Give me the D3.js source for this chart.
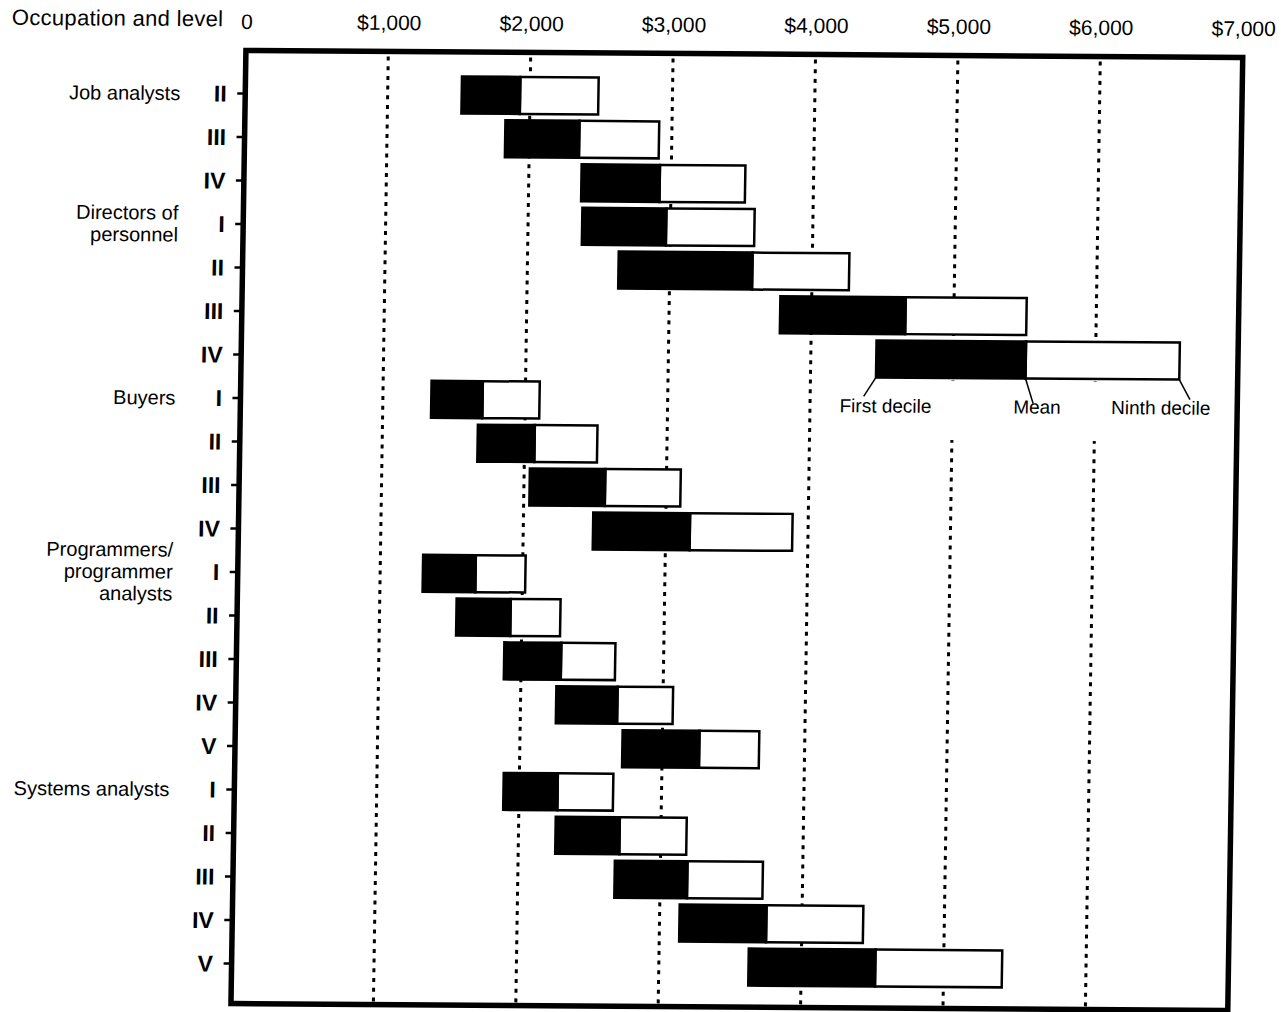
<!DOCTYPE html>
<html>
<head>
<meta charset="utf-8">
<script src="https://cdn.jsdelivr.net/npm/d3@7"></script>
<style>
  body { margin: 0; background: #fff; }
  text { font-family: "Liberation Sans", Arial, Helvetica, sans-serif; fill: #000; }
</style>
</head>
<body>
<div id="chart"></div>
<script>
// occupation groups and the work levels surveyed in each
const groups = ["Job analysts", "Directors of\npersonnel", "Buyers", "Programmers/\nprogrammer\nanalysts", "Systems analysts"];
const groupLevels = [
    ["II", "III", "IV"],
    ["I", "II", "III", "IV"],
    ["I", "II", "III", "IV"],
    ["I", "II", "III", "IV", "V"],
    ["I", "II", "III", "IV", "V"]
];

// monthly salaries, one value per row, top to bottom
const firstDecile = [1520, 1830, 2370, 2380, 2640, 3780, 4460, 1340, 1670, 2040, 2490, 1300, 1540, 1880, 2250, 2720, 1890, 2260, 2680, 3140, 3630];
const meanSalary  = [1930, 2350, 2920, 2970, 3580, 4660, 5510, 1700, 2070, 2570, 3170, 1670, 1920, 2280, 2680, 3260, 2270, 2710, 3190, 3750, 4520];
const ninthDecile = [2480, 2910, 3520, 3590, 4260, 5510, 6590, 2100, 2510, 3100, 3890, 2020, 2270, 2660, 3070, 3680, 2660, 3180, 3720, 4430, 5410];

const xTicks = [0, 1000, 2000, 3000, 4000, 5000, 6000, 7000];
const gridValues = [1000, 2000, 3000, 4000, 5000, 6000];
const legendLabels = ["First decile", "Mean", "Ninth decile"];
const legendRow = 6; // Directors of personnel IV carries the key

var width = 1288
    ,height = 1012
    ,frameTop = 54
    ,frameBottom = 1007
    ,skewB = 0.007      // the scan is slightly skewed, copy it
    ,skewC = -0.0157
    ,cx = 740
    ,cy = 527;

// flatten groups into rows
var rows = [];
groups.forEach((g, gi) => {
    groupLevels[gi].forEach((lv, li) => {
        var i = rows.length;
        rows.push({id: i, group: gi, first: li === 0, level: lv,
            p10: firstDecile[i], mean: meanSalary[i], p90: ninthDecile[i]});
    });
});

var x = d3.scaleLinear()
    .domain([0, 7000])
    .range([238.5, 1235.3]);

var y = d3.scaleBand()
    .domain(rows.map(d => d.id))
    .range([75.25, 988.75])
    .paddingInner(0.15)
    .paddingOuter(0.075);

var svg = d3.select("#chart")
    .append("svg")
    .attr("width", width)
    .attr("height", height)
    .style("background", "#fff");

var root = svg.append("g")
    .attr("transform", "matrix(1," + skewB + "," + skewC + ",1," + (-skewC * cy) + "," + (-skewB * cx) + ")");

// dotted grid
root.append("g")
    .selectAll("line")
    .data(gridValues)
    .enter()
    .append("line")
    .attr("x1", d => x(d))
    .attr("x2", d => x(d))
    .attr("y1", frameTop + 5)
    .attr("y2", frameBottom - 3)
    .attr("stroke", "#000")
    .attr("stroke-width", 3)
    .attr("stroke-dasharray", "4 5.7");

// bars: black from first decile to mean, white from mean to ninth decile
var bars = root.append("g")
    .selectAll("g")
    .data(rows)
    .enter()
    .append("g");

bars.append("rect")
    .attr("x", d => x(d.mean))
    .attr("y", d => y(d.id))
    .attr("width", d => x(d.p90) - x(d.mean))
    .attr("height", y.bandwidth())
    .attr("fill", "#fff")
    .attr("stroke", "#000")
    .attr("stroke-width", 2.5);

bars.append("rect")
    .attr("x", d => x(d.p10))
    .attr("y", d => y(d.id))
    .attr("width", d => x(d.mean) - x(d.p10))
    .attr("height", y.bandwidth())
    .attr("fill", "#000")
    .attr("stroke", "#000")
    .attr("stroke-width", 2.5);

// key on one bar
var lr = rows[legendRow]
    ,lBottom = y(lr.id) + y.bandwidth()
    ,keyVals = [lr.p10, lr.mean, lr.p90]
    ,leader = [[-12, 19], [8, 25], [11, 20]]
    ,labelShift = [10, 12, -18];

// gap in the grid behind the key
root.append("rect")
    .attr("x", x(lr.p10) - 38)
    .attr("y", lBottom + 3)
    .attr("width", x(7000) - 4 - (x(lr.p10) - 38))
    .attr("height", 59)
    .attr("fill", "#fff");

var key = root.append("g");
keyVals.forEach((v, i) => {
    key.append("line")
        .attr("x1", x(v))
        .attr("y1", lBottom)
        .attr("x2", x(v) + leader[i][0])
        .attr("y2", lBottom + leader[i][1])
        .attr("stroke", "#000")
        .attr("stroke-width", 1.5);
    key.append("text")
        .attr("x", x(v) + labelShift[i])
        .attr("y", lBottom + 35)
        .attr("text-anchor", "middle")
        .style("font-size", "19px")
        .text(legendLabels[i]);
});

// frame
root.append("rect")
    .attr("x", x(0))
    .attr("y", frameTop)
    .attr("width", x(7000) - x(0))
    .attr("height", frameBottom - frameTop)
    .attr("fill", "none")
    .attr("stroke", "#000")
    .attr("stroke-width", 5.5);

// dollar scale along the top
var xAxis = d3.axisTop(x)
    .tickValues(xTicks)
    .tickSize(0)
    .tickPadding(0)
    .tickFormat(d => d === 0 ? "0" : d3.format("$,")(d));

var gx = root.append("g")
    .attr("transform", "translate(0,32.5)")
    .call(xAxis);
gx.select(".domain").remove();
gx.selectAll("text")
    .style("font-size", "21px")
    .style("font-family", "\"Liberation Sans\", Arial, sans-serif");

// levels down the left
var yAxis = d3.axisLeft(y)
    .tickSize(8)
    .tickPadding(10.5)
    .tickFormat(d => rows[d].level);

var gy = root.append("g")
    .attr("transform", "translate(" + x(0) + ",0)")
    .call(yAxis);
gy.select(".domain").remove();
gy.selectAll("line")
    .attr("stroke-width", 2.5);
gy.selectAll("text")
    .attr("dy", "0.36em")
    .style("font-size", "23px")
    .style("font-weight", "bold")
    .style("font-family", "\"Liberation Sans\", Arial, sans-serif");

// occupation names
var lh = 22;
rows.filter(d => d.first).forEach(d => {
    var lines = groups[d.group].split("\n");
    var yc = y(d.id) + y.bandwidth() / 2;
    var t = root.append("text")
        .attr("text-anchor", "end")
        .style("font-size", "20px");
    lines.forEach((ln, i) => {
        t.append("tspan")
            .attr("x", x(0) - 65)
            .attr("y", yc + 7 - (lines.length - 1) * lh / 2 + i * lh)
            .text(ln);
    });
});

root.append("text")
    .attr("x", 4)
    .attr("y", 30)
    .style("font-size", "22px")
    .style("letter-spacing", "0.3px")
    .text("Occupation and level");
</script>
</body>
</html>
